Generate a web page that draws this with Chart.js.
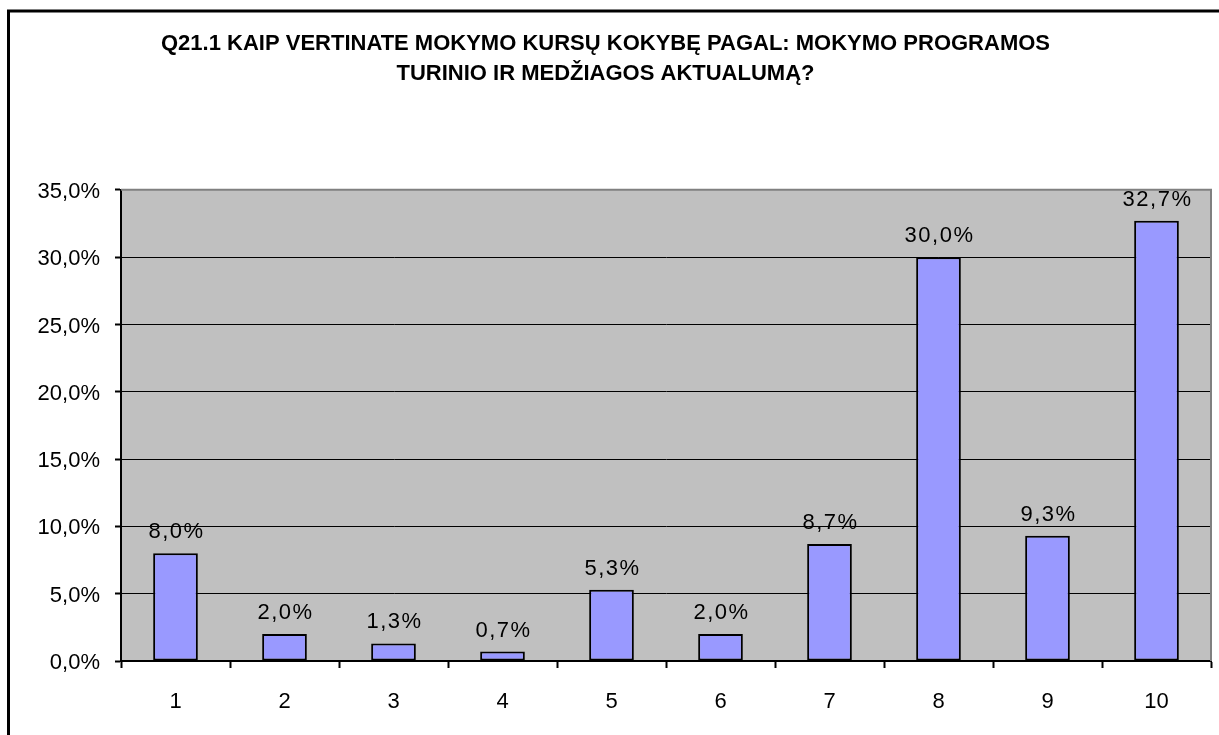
<!DOCTYPE html>
<html>
<head>
<meta charset="utf-8">
<script src="https://cdn.jsdelivr.net/npm/chart.js@4.4.0/dist/chart.umd.min.js"></script>
<style>
  html, body { margin: 0; padding: 0; background: #fff; }
  #wrap { width: 1219px; height: 735px; }
</style>
</head>
<body>
<div id="wrap"><canvas id="chart" width="1219" height="735"></canvas></div>
<script>
// ---- data ----
const categories = ['1', '2', '3', '4', '5', '6', '7', '8', '9', '10'];
const values = [8.0, 2.0, 1.3, 0.7, 5.3, 2.0, 8.7, 30.0, 9.3, 32.7];
const titleLines = [
  'Q21.1 KAIP VERTINATE MOKYMO KURSŲ KOKYBĘ PAGAL: MOKYMO PROGRAMOS',
  'TURINIO IR MEDŽIAGOS AKTUALUMĄ?'
];
const yMax = 35;
const yStep = 5;

const FONT = "'Liberation Sans', Arial, sans-serif";
const fmt = v => v.toFixed(1).replace('.', ',') + '%';

// plot background, borders and value labels (Excel style)
const excelLook = {
  id: 'excelLook',
  beforeDraw(chart) {
    const { ctx, chartArea: a } = chart;
    ctx.save();
    ctx.fillStyle = '#fff';
    ctx.fillRect(0, 0, chart.width, chart.height);
    ctx.fillStyle = '#C0C0C0';
    ctx.fillRect(a.left, a.top, a.right - a.left, a.bottom - a.top);
    ctx.restore();
  },
  afterDatasetsDraw(chart) {
    const { ctx, chartArea: a } = chart;
    ctx.save();
    // gray top / right edge of plot area
    ctx.strokeStyle = '#808080';
    ctx.lineWidth = 2;
    ctx.beginPath();
    ctx.moveTo(a.left, a.top);
    ctx.lineTo(a.right, a.top);
    ctx.lineTo(a.right, a.bottom);
    ctx.stroke();

    // value labels, a bit spaced out like the Excel export
    ctx.fillStyle = '#000';
    ctx.font = '22px ' + FONT;
    ctx.letterSpacing = '1.5px';
    ctx.textAlign = 'center';
    ctx.textBaseline = 'alphabetic';
    chart.getDatasetMeta(0).data.forEach((bar, i) => {
      ctx.fillText(fmt(values[i]), bar.x + 1, bar.y - 15);
    });
    ctx.letterSpacing = '0px';

    // outer chart frame
    ctx.strokeStyle = '#000';
    ctx.lineWidth = 3;
    ctx.strokeRect(8.5, 11, 1400, 1000);
    ctx.restore();
  }
};

new Chart(document.getElementById('chart'), {
  type: 'bar',
  data: {
    labels: categories,
    datasets: [{
      data: values,
      backgroundColor: '#9999FF',
      borderColor: '#000',
      borderWidth: 2,
      borderSkipped: false,
      barPercentage: 0.41,
      categoryPercentage: 1
    }]
  },
  options: {
    responsive: false,
    animation: false,
    devicePixelRatio: 1,
    layout: { padding: { left: 0, right: 8, top: 0, bottom: 0 } },
    plugins: {
      legend: { display: false },
      tooltip: { enabled: false },
      title: {
        display: true,
        text: titleLines,
        color: '#000',
        font: { family: FONT, size: 22, weight: 'bold', lineHeight: 1.36 },
        padding: { top: 29, bottom: 101 }
      }
    },
    scales: {
      x: {
        afterFit: s => { s.height = 74; },
        grid: {
          display: true,
          drawOnChartArea: false,
          drawTicks: true,
          tickLength: 7,
          color: '#000',
          tickWidth: 2
        },
        border: { display: true, color: '#000', width: 2 },
        ticks: {
          color: '#000',
          font: { family: FONT, size: 22 },
          padding: 21
        }
      },
      y: {
        min: 0,
        max: yMax,
        afterFit: s => { s.width = 121; },
        grid: {
          color: '#000',
          lineWidth: 1,
          tickLength: 6,
          tickWidth: 2,
          tickColor: '#000'
        },
        border: { display: true, color: '#000', width: 2 },
        ticks: {
          stepSize: yStep,
          color: '#000',
          font: { family: FONT, size: 22 },
          padding: 15,
          labelOffset: 2,
          callback: v => fmt(v)
        }
      }
    }
  },
  plugins: [excelLook]
});
</script>
</body>
</html>
